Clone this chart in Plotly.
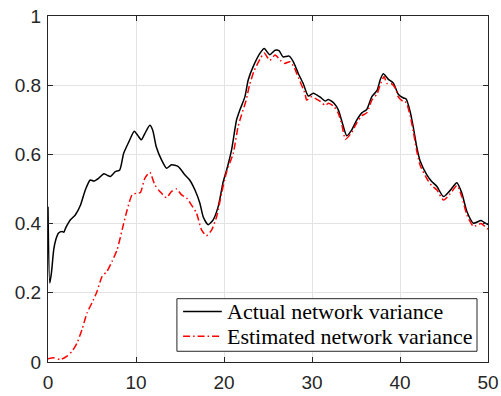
import plotly.graph_objects as go

actual_x = [0, 0.2, 0.4, 0.65, 0.9, 1.2, 1.6, 1.8, 2.0, 2.55, 3.1, 3.7, 4.25, 4.8, 5.2, 5.75, 6.35, 6.7, 7.1, 7.65, 8.15, 8.6, 9.2, 9.8, 10.2, 10.6, 11.0, 11.57, 11.9, 12.3, 12.9, 13.47, 14.04, 14.8, 15.55, 16.1, 16.7, 17.26, 17.63, 18.2, 18.77, 19.34, 19.9, 20.3, 20.86, 21.43, 21.8, 22.38, 22.75, 23.3, 24.08, 24.57, 25.2, 25.8, 26.25, 26.7, 27.4, 27.87, 28.44, 29.0, 29.58, 30.15, 30.9, 31.5, 31.85, 32.5, 33.0, 33.4, 33.95, 34.5, 35.1, 35.66, 36.22, 36.8, 37.4, 37.74, 38.1, 38.68, 39.25, 39.8, 40.4, 40.7, 41.15, 41.5, 41.9, 42.3, 43.05, 43.6, 44.2, 44.94, 45.7, 46.46, 47.03, 47.6, 48.35, 49.2, 49.6, 50.0]
actual_y = [0.449, 0.228, 0.26, 0.325, 0.355, 0.373, 0.377, 0.375, 0.387, 0.411, 0.425, 0.454, 0.498, 0.526, 0.523, 0.531, 0.544, 0.54, 0.536, 0.55, 0.555, 0.603, 0.637, 0.667, 0.655, 0.642, 0.66, 0.684, 0.67, 0.622, 0.584, 0.56, 0.57, 0.565, 0.541, 0.526, 0.497, 0.459, 0.42, 0.397, 0.411, 0.449, 0.52, 0.555, 0.613, 0.70, 0.728, 0.767, 0.815, 0.853, 0.892, 0.906, 0.888, 0.901, 0.90, 0.882, 0.884, 0.868, 0.834, 0.805, 0.769, 0.777, 0.766, 0.754, 0.759, 0.748, 0.728, 0.695, 0.654, 0.67, 0.70, 0.72, 0.73, 0.767, 0.785, 0.815, 0.833, 0.817, 0.806, 0.774, 0.763, 0.76, 0.724, 0.68, 0.622, 0.58, 0.541, 0.522, 0.507, 0.478, 0.496, 0.518, 0.488, 0.435, 0.401, 0.409, 0.403, 0.397]

est_x = [0, 0.65, 1.4, 2.16, 2.73, 3.3, 3.87, 4.44, 5.0, 5.57, 6.14, 6.7, 7.28, 7.85, 8.42, 9.0, 9.56, 10.1, 10.5, 11.0, 11.57, 12.14, 12.7, 13.47, 14.04, 14.6, 15.18, 15.75, 16.3, 16.88, 17.45, 18.0, 18.6, 19.16, 19.73, 20.3, 21.05, 21.6, 22.0, 22.5, 22.9, 23.4, 24.1, 24.57, 25.2, 25.8, 26.4, 26.9, 27.5, 28.0, 28.26, 29.2, 29.4, 29.97, 30.5, 31.0, 31.5, 31.9, 32.5, 33.0, 33.4, 33.8, 34.5, 35.1, 35.66, 36.22, 36.8, 37.4, 37.8, 38.2, 38.5, 39.0, 39.5, 39.8, 40.4, 40.7, 41.15, 41.5, 41.9, 42.3, 43.05, 43.6, 44.2, 44.94, 45.7, 46.46, 47.03, 47.6, 48.35, 49.2, 49.6, 50.0]
est_y = [0.009, 0.012, 0.007, 0.017, 0.031, 0.055, 0.094, 0.142, 0.171, 0.204, 0.247, 0.262, 0.291, 0.324, 0.382, 0.44, 0.483, 0.488, 0.49, 0.531, 0.548, 0.512, 0.493, 0.475, 0.493, 0.50, 0.483, 0.474, 0.454, 0.43, 0.382, 0.365, 0.382, 0.42, 0.488, 0.55, 0.603, 0.68, 0.715, 0.755, 0.80, 0.84, 0.876, 0.893, 0.872, 0.887, 0.872, 0.863, 0.868, 0.85, 0.834, 0.776, 0.757, 0.767, 0.76, 0.752, 0.742, 0.748, 0.738, 0.718, 0.685, 0.644, 0.663, 0.692, 0.712, 0.72, 0.757, 0.775, 0.805, 0.825, 0.805, 0.805, 0.79, 0.766, 0.752, 0.75, 0.712, 0.668, 0.61, 0.568, 0.53, 0.51, 0.497, 0.468, 0.486, 0.51, 0.478, 0.425, 0.392, 0.4, 0.393, 0.384]

series_names = ["Actual network variance", "Estimated network variance"]
series_colors = ["#000000", "#ff0000"]
series_dashes = ["solid", "7px,3px,1.5px,3px"]

x_ticks = [0, 10, 20, 30, 40, 50]
y_ticks = [0, 0.2, 0.4, 0.6, 0.8, 1]
y_tick_text = ["0", "0.2", "0.4", "0.6", "0.8", "1"]

fig = go.Figure()
for xs, ys, name, col, dash in zip([actual_x, est_x], [actual_y, est_y],
                                   series_names, series_colors, series_dashes):
    fig.add_trace(go.Scatter(x=xs, y=ys, mode="lines", name=name,
                             line=dict(color=col, width=1.5, dash=dash,
                                       shape="spline", smoothing=0.6)))

axis_common = dict(showline=True, linecolor="#262626", linewidth=1, mirror="ticks",
                   ticks="inside", ticklen=5, tickcolor="#262626", automargin=False,
                   ticklabeloverflow="allow",
                   showgrid=True, gridcolor="#e3e3e3", gridwidth=1, zeroline=False,
                   tickfont=dict(family="Liberation Sans, Arial", size=19, color="#262626"))

fig.update_xaxes(range=[0, 50], tickvals=x_ticks, ticklabelstandoff=3, **axis_common)
fig.update_yaxes(range=[0, 1], tickvals=y_ticks, ticktext=y_tick_text, ticklabelstandoff=2, **axis_common)

# Legend box (MATLAB style: compact rows)
leg_x0, leg_x1, leg_y0, leg_y1 = 0.293, 0.975, 0.031, 0.183
row_y = [0.1457, 0.0744]
sample_x0, sample_x1, text_x = 0.307, 0.395, 0.403
shapes = [dict(type="rect", xref="paper", yref="paper", x0=leg_x0, x1=leg_x1, y0=leg_y0, y1=leg_y1,
               line=dict(color="#262626", width=1), fillcolor="white", layer="above")]
annotations = []
for ry, name, col, dash in zip(row_y, series_names, series_colors, series_dashes):
    shapes.append(dict(type="line", xref="paper", yref="paper", x0=sample_x0, x1=sample_x1,
                       y0=ry, y1=ry, line=dict(color=col, width=1.5, dash=dash), layer="above"))
    annotations.append(dict(xref="paper", yref="paper", x=text_x, y=ry, xanchor="left",
                            yanchor="middle", text=name, showarrow=False,
                            font=dict(family="Liberation Serif, Times New Roman", size=22, color="#000000")))

fig.update_layout(
    width=501, height=396,
    margin=dict(l=48, r=13, t=16, b=34, pad=0),
    paper_bgcolor="white", plot_bgcolor="white",
    showlegend=False,
    shapes=shapes, annotations=annotations,
)

fig.write_html("out.html", config={"displayModeBar": False},
               post_script="document.body.style.margin='0';")
